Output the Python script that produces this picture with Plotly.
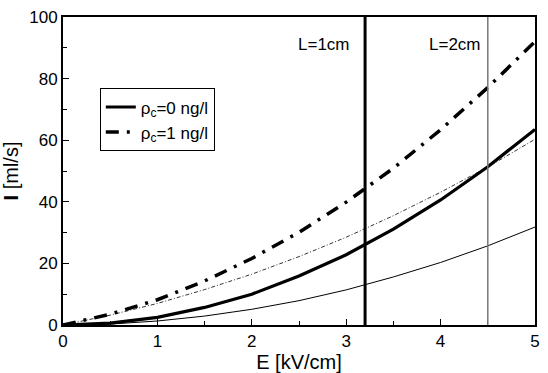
import plotly.graph_objects as go

E = [0, 0.5, 1, 1.5, 2, 2.5, 3, 3.5, 4, 4.5, 5]
I_rho0_L1 = [0, 0.6, 2.5, 5.7, 10.0, 15.9, 22.8, 31.1, 40.6, 51.4, 63.5]
I_rho1_L1 = [0, 3.5, 8.2, 14.3, 21.6, 30.1, 39.9, 50.9, 63.4, 77.1, 92.0]
I_rho0_L2 = [0, 0.3, 1.3, 2.9, 5.1, 7.9, 11.4, 15.6, 20.3, 25.7, 31.8]
I_rho1_L2 = [0, 3.2, 7.0, 11.5, 16.5, 22.2, 28.5, 35.5, 43.1, 51.3, 60.3]
E_limit_L1 = 3.2
E_limit_L2 = 4.5
legend_names = ["ρ<sub>c</sub>=0 ng/l", "ρ<sub>c</sub>=1 ng/l"]
x_ticks = [0, 1, 2, 3, 4, 5]
y_ticks = [0, 20, 40, 60, 80, 100]
x_range = [0, 5]
y_range = [0, 100]

FONT = "Arial"
FS = 17

fig = go.Figure()
fig.add_trace(go.Scatter(x=E, y=I_rho0_L2, mode="lines", line=dict(color="black", width=1),
                         showlegend=False))
fig.add_trace(go.Scatter(x=E, y=I_rho1_L2, mode="lines",
                         line=dict(color="black", width=0.8, dash="4px,2px,1px,2px"),
                         showlegend=False))
fig.add_trace(go.Scatter(x=E, y=I_rho0_L1, mode="lines", line=dict(color="black", width=3.2),
                         name=legend_names[0]))
fig.add_trace(go.Scatter(x=E, y=I_rho1_L1, mode="lines",
                         line=dict(color="black", width=3.5, dash="13px,8px,3px,8px"),
                         name=legend_names[1]))

fig.add_shape(type="line", xref="x", yref="paper", x0=E_limit_L1, x1=E_limit_L1, y0=0, y1=1,
              line=dict(color="black", width=3))
fig.add_shape(type="line", xref="x", yref="paper", x0=E_limit_L2, x1=E_limit_L2, y0=0, y1=1,
              line=dict(color="#777777", width=1.5))

fig.add_annotation(x=2.77, y=91, xref="x", yref="y", text="L=1cm", showarrow=False,
                   font=dict(size=FS, color="black"))
fig.add_annotation(x=4.15, y=91, xref="x", yref="y", text="L=2cm", showarrow=False,
                   font=dict(size=FS, color="black"))

fig.update_xaxes(range=x_range, dtick=1, tick0=0, showline=True, linecolor="black", linewidth=2,
                 mirror=True, ticks="inside", ticklen=6, tickcolor="black", showgrid=False,
                 zeroline=False, title_text="E [kV/cm]", title_standoff=0,
                 minor=dict(dtick=0.5, ticks="inside", ticklen=4, tickcolor="black"))
fig.update_yaxes(range=y_range, dtick=20, tick0=0, showline=True, linecolor="black", linewidth=2,
                 mirror=True, ticks="inside", ticklen=6, tickcolor="black", showgrid=False,
                 zeroline=False, title_text="<b>I</b> [ml/s]", title_standoff=6,
                 minor=dict(dtick=10, ticks="inside", ticklen=4, tickcolor="black"))

fig.update_layout(
    width=548, height=373,
    margin=dict(l=63, r=8, t=14, b=40),
    paper_bgcolor="white", plot_bgcolor="white",
    font=dict(family=FONT, size=FS, color="black"),
    legend=dict(x=0.078, y=0.768, xanchor="left", yanchor="top",
                bgcolor="white", bordercolor="black", borderwidth=1),
)

fig.write_html("out.html", config={"displayModeBar": False},
               post_script="document.body.style.margin='0';")
